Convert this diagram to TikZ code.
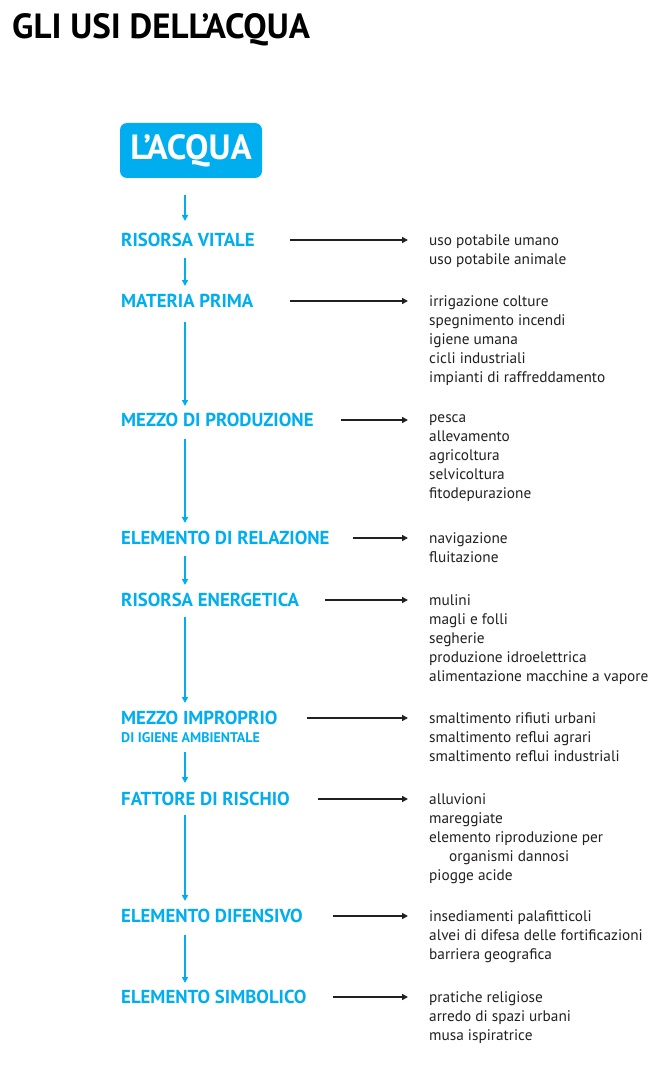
\documentclass[tikz,border=0pt]{standalone}
\usepackage{fontspec}
\setmainfont{PT Sans}
\usetikzlibrary{arrows.meta}
\definecolor{cy}{RGB}{0,174,239}
\definecolor{dk}{RGB}{35,31,32}
\begin{document}
\begin{tikzpicture}[x=1pt,y=-1pt,
 lab/.style={anchor=west,text=cy,font=\bfseries\fontsize{18.8}{20}\selectfont,inner sep=0pt},
 itm/.style={anchor=north west,text=dk,font=\fontsize{15.3}{19}\selectfont,inner sep=0pt,align=left},
 va/.style={cy,line width=1.6pt,-{Triangle[length=6pt,width=6pt]}},
 ha/.style={dk,line width=1.6pt,-{Triangle[length=6pt,width=6pt]}}]
\useasboundingbox (0,0) rectangle (670,1067);
\node[anchor=west,inner sep=0pt,font=\bfseries\fontsize{35}{38}\selectfont,text=black] (t) at (12,30) {GLI USI DELL’ACQUA};
\node[fill=cy,rounded corners=7pt,minimum width=142pt,minimum height=55pt,text=white,font=\bfseries\fontsize{35}{37}\selectfont] (box) at (191,150.5) {L’ACQUA};
\node[lab] (a) at (121,240) {RISORSA VITALE};
\node[lab] (b) at (121,301) {MATERIA PRIMA};
\node[lab] (c) at (121,420) {MEZZO DI PRODUZIONE};
\node[lab] (d) at (121,538) {ELEMENTO DI RELAZIONE};
\node[lab] (e) at (121,600) {RISORSA ENERGETICA};
\node[lab] (f) at (121,718) {MEZZO IMPROPRIO};
\node[anchor=west,text=cy,font=\bfseries\fontsize{14}{15}\selectfont,inner sep=0pt] (f2) at (121,738) {DI IGIENE AMBIENTALE};
\node[lab] (g) at (121,799) {FATTORE DI RISCHIO};
\node[lab] (h) at (121,916) {ELEMENTO DIFENSIVO};
\node[lab] (i) at (121,997) {ELEMENTO SIMBOLICO};
\coordinate (v0) at (185,195); \coordinate (w0) at (185,221);
\coordinate (v1) at (185,258); \coordinate (w1) at (185,286);
\coordinate (v2) at (185,322); \coordinate (w2) at (185,406);
\coordinate (v3) at (185,439); \coordinate (w3) at (185,523);
\coordinate (v4) at (185,556); \coordinate (w4) at (185,585);
\coordinate (v5) at (185,617); \coordinate (w5) at (185,703);
\coordinate (v6) at (185,752); \coordinate (w6) at (185,783);
\coordinate (v7) at (185,815); \coordinate (w7) at (185,901);
\coordinate (v8) at (185,935); \coordinate (w8) at (185,983);
\foreach \k in {0,...,8} \draw[va] (v\k) -- (w\k);
\foreach \n/\s/\txt in {
 a/290/{uso potabile umano\\uso potabile animale},
 b/290/{irrigazione colture\\spegnimento incendi\\igiene umana\\cicli industriali\\impianti di raffreddamento},
 c/341/{pesca\\allevamento\\agricoltura\\selvicoltura\\fitodepurazione},
 d/353/{navigazione\\fluitazione},
 e/325/{mulini\\magli e folli\\segherie\\produzione idroelettrica\\alimentazione macchine a vapore},
 f/307/{smaltimento rifiuti urbani\\smaltimento reflui agrari\\smaltimento reflui industriali},
 g/318/{alluvioni\\mareggiate\\elemento riproduzione per\\\hspace*{20pt}organismi dannosi\\piogge acide},
 h/333/{insediamenti palafitticoli\\alvei di difesa delle fortificazioni\\barriera geografica},
 i/333/{pratiche religiose\\arredo di spazi urbani\\musa ispiratrice}}{
 \coordinate (s\n) at (\s,0|-\n.west);
 \coordinate (e\n) at (408,0|-\n.west);
 \draw[ha] (s\n) -- (e\n);
 \node[itm] (r\n) at ([yshift=6pt]429,0|-\n.west) {\txt};
}
\end{tikzpicture}
\end{document}
